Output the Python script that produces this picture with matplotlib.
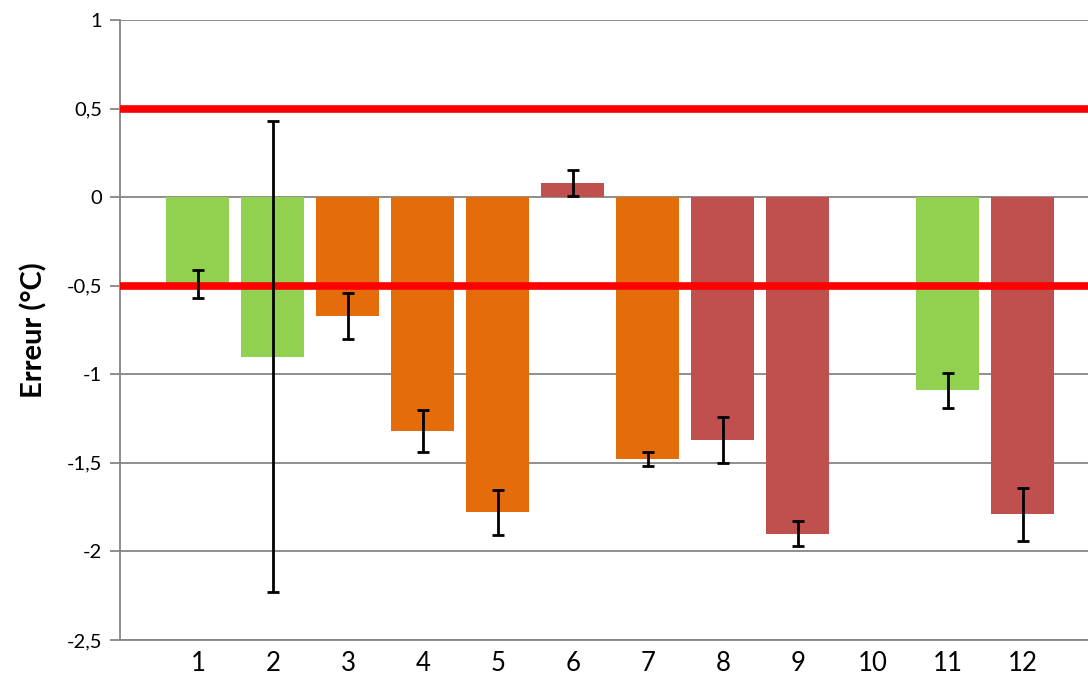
import numpy as np
import matplotlib
matplotlib.use("Agg")
import matplotlib.pyplot as plt

# données
categories = ["1", "2", "3", "4", "5", "6", "7", "8", "9", "10", "11", "12"]
erreur = [-0.49, -0.90, -0.67, -1.32, -1.78, 0.08, -1.48, -1.37, -1.90, np.nan, -1.09, -1.79]
incertitude = [0.08, 1.33, 0.13, 0.12, 0.125, 0.075, 0.04, 0.13, 0.07, np.nan, 0.10, 0.15]
groupe = ["vert", "vert", "orange", "orange", "orange", "rouge", "orange", "rouge", "rouge", None, "vert", "rouge"]
seuils = [0.5, -0.5]

couleurs = {"vert": "#92D050", "orange": "#E46C0A", "rouge": "#C0504D", None: "white"}

plt.rcParams["font.family"] = ["Lato", "DejaVu Sans"]

fig = plt.figure(figsize=(10.88, 6.77), dpi=100)
ax = fig.add_axes([120 / 1088, 37 / 677, 968 / 1088, 620 / 677])

x = np.arange(1, len(categories) + 1)
ax.bar(x, erreur, width=0.84, color=[couleurs[g] for g in groupe], zorder=2)

for s in seuils:
    ax.axhline(s, color="#FF0000", lw=5.5, zorder=3)

ax.errorbar(x, erreur, yerr=incertitude, fmt="none", ecolor="black",
            elinewidth=2, capsize=4.5, capthick=2, zorder=4)

ax.set_xlim(-0.04, 12.87)
ax.set_ylim(-2.5, 1)
ax.set_yticks(np.arange(-2.5, 1.01, 0.5))
ax.set_yticklabels([f"{v:g}".replace(".", ",") for v in np.arange(-2.5, 1.01, 0.5)])
ax.set_xticks(x)
ax.set_xticklabels(categories)

ax.grid(axis="y", color="#868686", lw=1.3, zorder=1)
ax.set_axisbelow(True)
for side in ["top", "right"]:
    ax.spines[side].set_visible(False)
for side in ["left", "bottom"]:
    ax.spines[side].set_color("#868686")
    ax.spines[side].set_linewidth(1.3)

ax.tick_params(axis="y", length=7, width=1.3, color="#868686", labelsize=14.5, pad=6)
ax.tick_params(axis="x", length=0, labelsize=18.5, pad=8)

ax.set_ylabel("Erreur (°C)", fontsize=21, fontweight="bold", labelpad=14)

fig.savefig("out.png", dpi=100)
